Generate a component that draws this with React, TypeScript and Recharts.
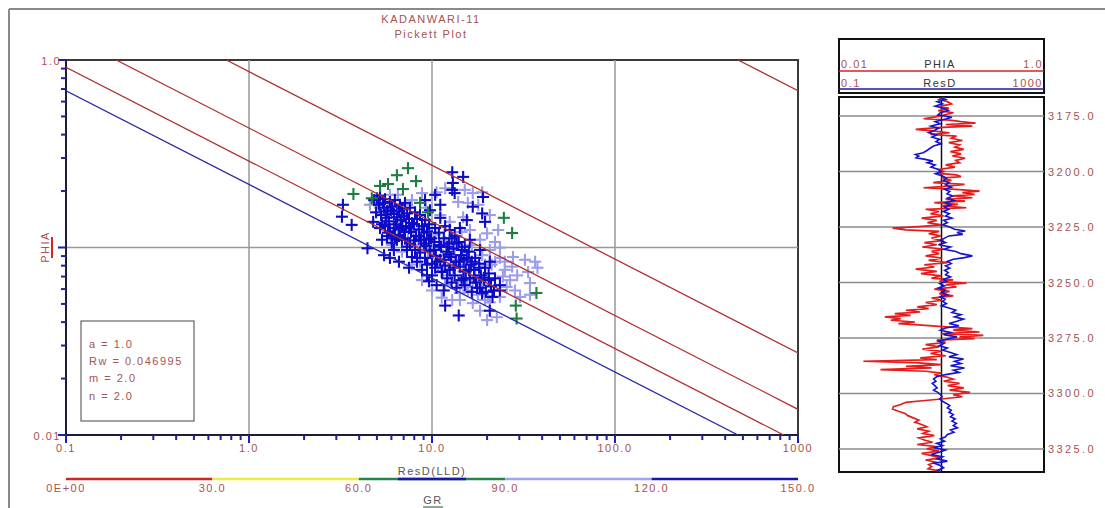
import React from 'react';
import {
  ReferenceArea,
  ReferenceLine,
  Scatter,
  ScatterChart,
  XAxis,
  YAxis,
} from 'recharts';

const TEXT_RED = '#a65252';
const FONT = '"Liberation Sans", Arial, sans-serif';
const TICK_BLUE = '#1e1eb0';

// Archie parameters (shown in the parameter box)
const ARCHIE_A = 1.0;
const ARCHIE_RW = 0.046995;
const ARCHIE_M = 2.0;
const ARCHIE_N = 2.0;
// Water saturation lines, blue one is Sw = 1
const SW_LINES = [1.0, 0.75, 0.5, 0.25, 0.01];

const RES_MAJOR = [0.1, 1, 10, 100, 1000];
const RES_LABELS = ['0.1', '1.0', '10.0', '100.0', '1000'];
const PHI_MAJOR = [0.01, 0.1, 1];
const PHI_LABELS = ['0.01', '', '1.0'];

const GR_BINS = [0, 30, 60, 90, 120, 150];
const GR_LABELS = ['0E+00', '30.0', '60.0', '90.0', '120.0', '150.0'];
const GR_COLORS = ['#d62424', '#eeee3a', '#24874a', '#a2a2ee', '#1616b4'];

// [ResD, PHIA] samples split by GR band
const gr60to90 = [
  [7.39, 0.265], [6.43, 0.243], [8.18, 0.226], [5.75, 0.218], [5.2, 0.213],
  [6.94, 0.205], [3.72, 0.193], [4.69, 0.183], [8.6, 0.173], [9.51, 0.154],
  [24.7, 0.144], [27.4, 0.1195], [37.2, 0.0572], [28.7, 0.049], [29.0, 0.0418],
];

const gr90to120 = [
  [5.07, 0.173], [5.75, 0.151], [6.11, 0.169], [6.51, 0.124], [6.94, 0.137],
  [7.39, 0.11], [7.88, 0.124], [8.39, 0.101], [8.93, 0.112], [9.51, 0.088],
  [10.1, 0.099], [10.8, 0.081], [11.5, 0.091], [12.3, 0.071], [13.0, 0.081],
  [13.9, 0.066], [14.8, 0.0745], [15.7, 0.059], [16.7, 0.067], [17.8, 0.056],
  [19.0, 0.063], [20.2, 0.055], [6.03, 0.103], [6.85, 0.095], [7.77, 0.081],
  [8.82, 0.067], [10.0, 0.059], [11.3, 0.054], [12.9, 0.0525], [6.51, 0.191],
  [7.77, 0.179], [9.28, 0.163], [11.1, 0.149], [12.5, 0.137], [14.5, 0.121],
  [16.5, 0.103], [18.8, 0.091], [21.2, 0.081], [4.58, 0.169], [5.2, 0.163],
  [8.82, 0.195], [10.6, 0.197], [13.9, 0.175], [16.7, 0.195], [18.8, 0.197],
  [15.7, 0.173], [23.0, 0.124], [20.0, 0.119], [23.5, 0.0998], [22.1, 0.107],
  [14.8, 0.145], [27.7, 0.089], [32.2, 0.086], [37.7, 0.078], [29.2, 0.071],
  [24.4, 0.07], [34.3, 0.0646], [30.3, 0.0545], [23.5, 0.0545], [20.7, 0.051],
  [20.0, 0.041], [22.6, 0.0425], [16.7, 0.0505], [14.2, 0.0572], [15.5, 0.0616],
  [18.3, 0.0654], [25.6, 0.0616], [27.4, 0.079], [25.0, 0.084], [33.5, 0.074],
  [5.54, 0.137], [6.27, 0.11], [7.12, 0.169], [8.08, 0.103], [9.16, 0.097],
  [10.4, 0.117], [11.8, 0.1073], [13.3, 0.091], [15.1, 0.081], [17.2, 0.071],
  [19.5, 0.081], [11.8, 0.063], [8.6, 0.084], [6.68, 0.1436], [5.89, 0.191],
  [16.1, 0.124], [18.3, 0.11], [20.7, 0.097], [23.5, 0.088], [14.2, 0.0525],
  [25.0, 0.076], [28.4, 0.059], [36.6, 0.084], [26.7, 0.067], [22.1, 0.084],
  [34.3, 0.056], [19.5, 0.0525], [18.3, 0.046], [11.8, 0.207], [15.1, 0.203],
  [17.9, 0.169], [20.7, 0.149],
];

const gr120to150 = [
  [4.83, 0.179], [4.95, 0.154], [4.77, 0.137],
  [5.2, 0.189], [5.13, 0.169], [5.27, 0.149], [5.2, 0.127], [5.33, 0.11],
  [5.54, 0.181], [5.47, 0.163], [5.61, 0.144], [5.54, 0.13], [5.68, 0.115], [5.47, 0.091],
  [5.89, 0.175], [5.96, 0.158], [5.82, 0.138], [5.89, 0.122], [6.03, 0.106], [5.89, 0.088],
  [6.27, 0.179], [6.19, 0.151], [6.35, 0.133], [6.27, 0.115], [6.19, 0.097],
  [6.68, 0.169], [6.6, 0.156], [6.76, 0.14], [6.68, 0.125], [6.85, 0.11], [6.6, 0.084],
  [7.12, 0.173], [7.03, 0.147], [7.21, 0.13], [7.12, 0.112], [7.3, 0.101],
  [7.58, 0.163], [7.49, 0.142], [7.68, 0.121], [7.58, 0.105], [7.77, 0.089], [7.49, 0.078],
  [8.08, 0.154], [7.98, 0.133], [8.18, 0.115], [8.08, 0.097], [8.28, 0.084],
  [8.6, 0.149], [8.49, 0.125], [8.71, 0.11], [8.6, 0.094], [8.82, 0.076],
  [9.16, 0.14], [9.05, 0.12], [9.28, 0.102], [9.16, 0.088], [9.39, 0.071],
  [9.75, 0.158], [9.63, 0.133], [9.87, 0.112], [9.75, 0.096], [10.0, 0.082], [9.63, 0.066],
  [10.4, 0.127], [10.3, 0.107], [10.5, 0.09], [10.4, 0.078], [10.6, 0.063],
  [11.1, 0.144], [10.9, 0.12], [11.2, 0.101], [11.1, 0.086], [11.3, 0.074],
  [11.8, 0.13], [11.6, 0.112], [12.0, 0.095], [11.8, 0.08], [12.1, 0.0685], [11.6, 0.059],
  [12.5, 0.124], [12.4, 0.105], [12.7, 0.089], [12.5, 0.076], [12.8, 0.065],
  [13.3, 0.115], [13.1, 0.0985], [13.5, 0.084], [13.3, 0.071], [13.6, 0.061],
  [14.2, 0.127], [14.0, 0.107], [14.4, 0.091], [14.2, 0.079], [14.5, 0.067],
  [15.1, 0.101], [14.9, 0.086], [15.3, 0.0745], [15.1, 0.063],
  [16.1, 0.11], [15.9, 0.095], [16.3, 0.081], [16.1, 0.0685], [16.5, 0.058],
  [17.2, 0.088], [17.0, 0.076], [17.4, 0.065],
  [18.3, 0.097], [18.1, 0.082], [18.5, 0.071], [18.3, 0.061],
  [19.5, 0.078], [19.3, 0.067], [19.7, 0.058],
  [20.7, 0.084], [20.4, 0.0727], [21.0, 0.062],
  [22.1, 0.0685], [21.8, 0.059], [23.5, 0.063],
  [5.01, 0.183], [5.4, 0.173], [5.68, 0.156], [6.04, 0.165], [6.43, 0.145],
  [6.85, 0.161], [7.3, 0.152], [7.77, 0.135], [8.29, 0.142], [8.82, 0.13],
  [9.39, 0.122], [5.33, 0.133], [5.75, 0.12], [6.19, 0.127], [6.6, 0.115],
  [7.03, 0.121], [7.49, 0.127], [7.98, 0.109], [8.49, 0.115], [9.05, 0.105],
  [9.63, 0.11], [10.27, 0.097], [10.96, 0.103], [11.65, 0.086], [12.34, 0.092],
  [13.13, 0.078], [14.02, 0.084], [14.9, 0.0685], [15.9, 0.076], [16.98, 0.069],
  [18.07, 0.078], [19.26, 0.069], [20.44, 0.067], [10.67, 0.084], [11.38, 0.0745],
  [12.1, 0.101], [12.82, 0.112], [13.64, 0.105], [14.56, 0.097], [15.49, 0.088],
  [16.51, 0.084], [17.64, 0.061], [18.77, 0.057], [10.0, 0.071], [9.39, 0.081],
  [8.29, 0.088], [7.3, 0.097], [6.43, 0.11], [6.04, 0.112], [6.85, 0.13],
  [3.26, 0.169], [3.22, 0.146], [3.64, 0.132], [4.44, 0.099], [11.8, 0.049],
  [14.0, 0.0434], [20.7, 0.046], [21.4, 0.0545], [23.5, 0.059], [18.8, 0.152],
  [19.5, 0.137], [16.7, 0.165], [15.5, 0.14], [19.0, 0.186], [12.9, 0.252],
  [14.8, 0.238], [13.0, 0.221], [12.9, 0.203], [13.3, 0.195], [10.4, 0.191],
  [11.1, 0.169], [9.16, 0.179],
];

// Depth track
const DEPTH_TICKS = [3175, 3200, 3225, 3250, 3275, 3300, 3325];
const DEPTH_TOP = 3166.4;
const DEPTH_BOTTOM = 3335.4;

// [depth, PHIA]
const phiaLog = [
  [3166.5, 0.107], [3167.5, 0.095], [3168.5, 0.114], [3169.5, 0.125], [3170.5, 0.1],
  [3171.5, 0.118], [3172.5, 0.093], [3173.5, 0.131], [3174.5, 0.105], [3175.5, 0.085],
  [3176.2, 0.067], [3176.8, 0.12], [3177.5, 0.155], [3178.2, 0.215], [3178.8, 0.11],
  [3179.5, 0.2], [3180.2, 0.09], [3181, 0.056], [3181.8, 0.085], [3182.5, 0.12],
  [3183.3, 0.078], [3184, 0.14], [3185, 0.125], [3186, 0.16], [3187, 0.118],
  [3188, 0.15], [3189, 0.135], [3190, 0.165], [3191, 0.122], [3192, 0.155],
  [3193, 0.128], [3194, 0.17], [3195, 0.138], [3196, 0.15], [3197, 0.11],
  [3198, 0.135], [3199, 0.095], [3200, 0.105], [3200.8, 0.092], [3201.5, 0.14],
  [3202.3, 0.155], [3203, 0.1], [3204, 0.125], [3205, 0.083], [3205.8, 0.168],
  [3206.5, 0.12], [3207.3, 0.0667], [3208, 0.14], [3208.8, 0.235], [3209.5, 0.16],
  [3210.3, 0.21], [3211, 0.13], [3211.8, 0.2], [3212.5, 0.11], [3213.3, 0.17],
  [3214, 0.085], [3214.8, 0.145], [3215.5, 0.1], [3216.3, 0.175], [3217, 0.07],
  [3218, 0.095], [3219, 0.078], [3220, 0.105], [3221, 0.064], [3222, 0.09],
  [3223, 0.073], [3224, 0.1], [3224.8, 0.06], [3225.5, 0.0333], [3226.3, 0.045],
  [3227, 0.095], [3228, 0.075], [3229, 0.098], [3230, 0.08], [3231, 0.105],
  [3232, 0.068], [3233, 0.09], [3234, 0.065], [3235, 0.105], [3236, 0.08],
  [3237, 0.095], [3238, 0.07], [3239, 0.1], [3240, 0.075], [3241, 0.115],
  [3242, 0.068], [3243, 0.085], [3244, 0.056], [3245, 0.09], [3246, 0.063],
  [3247, 0.1], [3248, 0.08], [3248.8, 0.13], [3249.5, 0.095], [3250.3, 0.175],
  [3251, 0.11], [3252, 0.14], [3253, 0.085], [3254, 0.12], [3255, 0.095],
  [3256, 0.13], [3257, 0.08], [3258, 0.1], [3259, 0.07], [3260, 0.09],
  [3261, 0.058], [3261.8, 0.075], [3262.5, 0.045], [3263.3, 0.062], [3264, 0.035],
  [3264.8, 0.05], [3265.5, 0.028], [3266.3, 0.04], [3267, 0.032], [3267.8, 0.055],
  [3268.5, 0.038], [3269.3, 0.07], [3270, 0.11], [3270.8, 0.2], [3271.5, 0.13],
  [3272.3, 0.235], [3273, 0.1], [3273.8, 0.256], [3274.5, 0.15], [3275.3, 0.21],
  [3276, 0.09], [3277, 0.11], [3278, 0.07], [3279, 0.095], [3280, 0.065],
  [3281, 0.1], [3282, 0.078], [3283, 0.11], [3284, 0.062], [3284.8, 0.09],
  [3285.5, 0.0173], [3286.2, 0.06], [3287, 0.1], [3287.8, 0.045], [3288.5, 0.08],
  [3289.3, 0.0254], [3290, 0.07], [3290.8, 0.1], [3291.5, 0.085], [3292.5, 0.11],
  [3293.5, 0.13], [3294.5, 0.105], [3295.5, 0.15], [3296.5, 0.115], [3297.5, 0.165],
  [3298.5, 0.12], [3299.5, 0.19], [3300.5, 0.13], [3301.5, 0.16], [3302.5, 0.1],
  [3303.3, 0.065], [3304, 0.045], [3305, 0.04], [3306, 0.034], [3307, 0.0333],
  [3308, 0.038], [3309, 0.044], [3310, 0.047], [3311, 0.053], [3312, 0.06],
  [3313, 0.055], [3314, 0.064], [3315, 0.072], [3316, 0.058], [3317, 0.075],
  [3318, 0.066], [3319, 0.085], [3320, 0.06], [3321, 0.068], [3322, 0.082],
  [3323, 0.058], [3324, 0.09], [3325, 0.072], [3326, 0.095], [3327, 0.064],
  [3328, 0.08], [3329, 0.098], [3330, 0.07], [3331, 0.088], [3332, 0.075],
  [3333, 0.08], [3334, 0.074], [3335, 0.098],
];

// [depth, ResD]
const resdLog = [
  [3166.5, 9], [3167.5, 12], [3168.5, 8.2], [3169.5, 10.5], [3170.5, 7.5],
  [3171.5, 11], [3172.5, 13.5], [3173.5, 9.5], [3174.5, 8.5], [3175.5, 16],
  [3176.5, 11], [3177.5, 7.5], [3178.5, 9.5], [3179.5, 6.2], [3180.5, 8.8],
  [3181.5, 7.2], [3182.5, 5.6], [3183.5, 8], [3184.5, 6.5], [3185.5, 9.2],
  [3186.5, 7.8], [3187.5, 9.8], [3188.5, 7], [3189.5, 6], [3190.5, 5.2],
  [3191.5, 4.4], [3192.3, 3.1], [3193, 3.6], [3193.8, 3.2], [3194.5, 4.8],
  [3195.3, 6.8], [3196, 5.3], [3197, 7.5], [3198, 6.2], [3199, 8.5],
  [3200, 9.8], [3201, 7.6], [3202, 10.5], [3203, 12.5], [3204, 11],
  [3205, 14], [3206, 12], [3207, 15.6], [3208, 11.5], [3209, 14.5],
  [3210, 12.8], [3211, 16.5], [3212, 13], [3213, 17.5], [3214, 12.2],
  [3215, 15], [3216, 11.5], [3217, 13.8], [3218, 10.8], [3219, 14.2],
  [3220, 12], [3221, 16], [3222, 11], [3223, 13], [3224, 10.5],
  [3225, 14.5], [3226, 18], [3226.8, 29], [3227.5, 20], [3228.3, 26],
  [3229, 14], [3230, 11.5], [3231, 9.5], [3232, 12], [3233, 8.7],
  [3234, 15], [3235, 11.2], [3236, 19], [3237, 24], [3238, 40],
  [3238.8, 28], [3239.5, 17], [3240.5, 13], [3241.5, 15.5], [3242.5, 12],
  [3243.5, 14.5], [3244.5, 11.5], [3245.5, 13.5], [3246.5, 12], [3247.5, 15],
  [3248.5, 11], [3249.5, 12.5], [3250.5, 9.3], [3251.5, 11.5], [3252.5, 8.7],
  [3253.5, 12], [3254.5, 10.2], [3255.5, 13], [3256.5, 9.5], [3257.5, 11.8],
  [3258.5, 10.6], [3259.5, 12.5], [3260.5, 10], [3261.5, 14], [3262.5, 19],
  [3263.5, 16], [3264.5, 24], [3265.5, 18], [3266.5, 27], [3267.5, 20],
  [3268.5, 14], [3269.5, 22], [3270.5, 12], [3271.5, 9.5], [3272.5, 15],
  [3273.5, 11], [3274.5, 20], [3275.5, 13], [3276.5, 8.7], [3277.5, 11],
  [3278.5, 9], [3279.5, 13], [3280.5, 10.5], [3281.5, 15], [3282.5, 20],
  [3283.5, 14], [3284.5, 27], [3285.5, 18], [3286.5, 24], [3287.5, 15],
  [3288.5, 28], [3289.5, 17], [3290.5, 22], [3291.5, 12], [3292.5, 8],
  [3293.5, 7], [3294.5, 7.8], [3295.5, 6.6], [3296.5, 7.4], [3297.5, 8.2],
  [3298.5, 7], [3299.5, 8.5], [3300.5, 9.5], [3301.5, 10.3], [3302.5, 9.2],
  [3303.5, 10.5], [3304.5, 12.5], [3305.5, 14.5], [3306.5, 13], [3307.5, 15.5],
  [3308.5, 14], [3309.5, 17], [3310.5, 15], [3311.5, 18.5], [3312.5, 16],
  [3313.5, 19.5], [3314.5, 17], [3315.5, 20.5], [3316.5, 15], [3317.5, 17.5],
  [3318.5, 13], [3319.5, 12], [3320.5, 9.5], [3321.5, 11.5], [3322.5, 8],
  [3323.5, 10.5], [3324.5, 7], [3325.5, 12], [3326.5, 9], [3327.5, 6.2],
  [3328.5, 10.5], [3329.5, 8.2], [3330.5, 13], [3331.5, 7.2], [3332.5, 9.5],
  [3333.5, 11], [3334.5, 8.5], [3335, 9.5],
];

// minor ticks for the log axes (2..9 within each decade)
const minorTicks = (decades: number[]) =>
  decades.flatMap(d => [2, 3, 4, 5, 6, 7, 8, 9].map(k => +(d * k).toPrecision(3)));
const RES_TICKS = [...RES_MAJOR, ...minorTicks([0.1, 1, 10, 100])].sort((a, b) => a - b);
const PHI_TICKS = [...PHI_MAJOR, ...minorTicks([0.01, 0.1])].sort((a, b) => a - b);

const toPoints = (rows: number[][]) => rows.map(([rt, phi]) => ({rt, phi}));

// Archie line for a given Sw, clipped to the plot domain
function swSegment(sw: number) {
  const k = Math.log10(ARCHIE_A * ARCHIE_RW) - ARCHIE_N * Math.log10(sw);
  const phiAt = (rt: number) => Math.pow(10, (k - Math.log10(rt)) / ARCHIE_M);
  const lo = Math.max(0.1, Math.pow(10, k));
  const hi = Math.min(1000, Math.pow(10, k + 2 * ARCHIE_M));
  return [
    {rt: lo, phi: phiAt(lo)},
    {rt: hi, phi: phiAt(hi)},
  ];
}

const textStyle = {
  fontFamily: FONT,
  fontSize: 11,
  letterSpacing: 1.5,
  fill: TEXT_RED,
};

const PlusMark = ({cx, cy, color}: any) => {
  if (cx == null || cy == null) return <g />;
  return (
    <g stroke={color} strokeWidth={2.1}>
      <line x1={cx - 6} y1={cy} x2={cx + 6} y2={cy} />
      <line x1={cx} y1={cy - 6} x2={cx} y2={cy + 6} />
    </g>
  );
};

const noMark = () => <g />;

// the tick component draws both the stub and the label: majors long, minors short
const ResTick = ({x, y, payload}: any) => {
  const idx = RES_MAJOR.indexOf(payload.value);
  const major = idx >= 0;
  return (
    <g>
      <rect x={x - 1} y={y} width={2} height={major ? 8 : 5} fill={TICK_BLUE} />
      {major && (
        <text x={x} y={y + 17} textAnchor="middle" {...textStyle}>
          {RES_LABELS[idx]}
        </text>
      )}
    </g>
  );
};

const PhiTick = ({x, y, payload}: any) => {
  const idx = PHI_MAJOR.indexOf(payload.value);
  const major = idx >= 0;
  return (
    <g>
      <rect x={x - (major ? 8 : 5)} y={y - 1} width={major ? 8 : 5} height={2} fill={TICK_BLUE} />
      {major && PHI_LABELS[idx] && (
        <text x={x - 5} y={y + 5} textAnchor="end" {...textStyle}>
          {PHI_LABELS[idx]}
        </text>
      )}
    </g>
  );
};

const DepthTick = ({x, y, payload}: any) => (
  <text x={x + 4} y={y + 4} textAnchor="start" {...textStyle} letterSpacing={2.4}>
    {payload.value.toFixed(1)}
  </text>
);

function PickettPlot() {
  const swColors = ['#2a2aa8', '#b03030', '#b03030', '#b03030', '#b03030'];
  return (
    <ScatterChart width={830} height={508} margin={{top: 60, right: 32, bottom: 33, left: 26}}>
      <XAxis
        dataKey="rt"
        type="number"
        scale="log"
        domain={[0.1, 1000]}
        allowDataOverflow
        ticks={RES_TICKS}
        interval={0}
        tick={(p: any) => <ResTick {...p} />}
        tickLine={false}
        tickSize={0}
        tickMargin={0}
        height={40}
        axisLine={{stroke: '#1c1c40', strokeWidth: 2}}
      />
      <YAxis
        dataKey="phi"
        type="number"
        scale="log"
        domain={[0.01, 1]}
        allowDataOverflow
        ticks={PHI_TICKS}
        interval={0}
        tick={(p: any) => <PhiTick {...p} />}
        tickLine={false}
        tickSize={0}
        tickMargin={0}
        width={40}
        axisLine={{stroke: '#1c1c40', strokeWidth: 2}}
      />
      {[1, 10, 100].map(v => (
        <ReferenceLine key={v} x={v} stroke="#999" strokeWidth={1.5} />
      ))}
      <ReferenceLine y={0.1} stroke="#999" strokeWidth={1.5} />
      <ReferenceArea x1={0.1} x2={1000} y1={0.01} y2={1} fill="none" fillOpacity={0} stroke="#3a3a3a" strokeWidth={2} />
      <Scatter
        data={toPoints(gr90to120)}
        shape={(p: any) => <PlusMark {...p} color="#9c9cea" />}
        isAnimationActive={false}
      />
      <Scatter
        data={toPoints(gr120to150)}
        shape={(p: any) => <PlusMark {...p} color="#0c0cc8" />}
        isAnimationActive={false}
      />
      <Scatter
        data={toPoints(gr60to90)}
        shape={(p: any) => <PlusMark {...p} color="#1e7d40" />}
        isAnimationActive={false}
      />
      {SW_LINES.map((sw, i) => (
        <Scatter
          key={sw}
          data={swSegment(sw)}
          line={{stroke: swColors[i], strokeWidth: 1.3}}
          shape={noMark}
          isAnimationActive={false}
        />
      ))}
    </ScatterChart>
  );
}

function LogTrack() {
  const phiaPoints = phiaLog.map(([depth, phia]) => ({depth, phia}));
  const resdPoints = resdLog.map(([depth, resd]) => ({depth, resd}));
  return (
    <ScatterChart width={305} height={508} margin={{top: 97, right: 0, bottom: 36, left: 39}}>
      <XAxis xAxisId="phia" dataKey="phia" type="number" scale="log" domain={[0.01, 1]} allowDataOverflow hide />
      <XAxis xAxisId="resd" dataKey="resd" type="number" scale="log" domain={[0.1, 1000]} allowDataOverflow hide />
      <YAxis
        dataKey="depth"
        type="number"
        domain={[DEPTH_TOP, DEPTH_BOTTOM]}
        allowDataOverflow
        reversed
        orientation="right"
        width={61}
        ticks={DEPTH_TICKS}
        interval={0}
        tick={(p: any) => <DepthTick {...p} />}
        tickLine={false}
        axisLine={false}
        tickSize={0}
        tickMargin={0}
      />
      {DEPTH_TICKS.map(d => (
        <ReferenceLine key={d} xAxisId="phia" y={d} stroke="#8c8c8c" strokeWidth={1.5} />
      ))}
      <ReferenceLine xAxisId="phia" x={0.1} stroke="#111" strokeWidth={1.5} />
      <Scatter
        xAxisId="phia"
        data={phiaPoints}
        line={{stroke: '#e41c1c', strokeWidth: 1.7}}
        shape={noMark}
        isAnimationActive={false}
      />
      <Scatter
        xAxisId="resd"
        data={resdPoints}
        line={{stroke: '#1414c8', strokeWidth: 1.6}}
        shape={noMark}
        isAnimationActive={false}
      />
      <ReferenceArea
        xAxisId="phia"
        x1={0.01}
        x2={1}
        y1={DEPTH_TOP}
        y2={DEPTH_BOTTOM}
        fill="none"
        fillOpacity={0}
        stroke="#111"
        strokeWidth={2}
      />
    </ScatterChart>
  );
}

// Titles, parameter box, GR colour strip and track header
function Decorations() {
  const grLeft = 66;
  const grWidth = 732;
  const grX = (v: number) => grLeft + (v / 150) * grWidth;
  return (
    <svg width={1105} height={508} style={{position: 'absolute', left: 0, top: 0, pointerEvents: 'none'}}>
      <line x1={9} y1={9} x2={1105} y2={9} stroke="#8a8a8a" strokeWidth={2} />
      <line x1={9} y1={9} x2={9} y2={508} stroke="#8a8a8a" strokeWidth={2} />

      <text x={431} y={23} textAnchor="middle" {...textStyle}>KADANWARI-11</text>
      <text x={431} y={38} textAnchor="middle" {...textStyle}>Pickett Plot</text>

      <text x={49} y={247} textAnchor="middle" {...textStyle} transform="rotate(-90 49 247)">PHIA</text>
      <line x1={52} y1={237} x2={52} y2={258} stroke="#d42424" strokeWidth={2} />

      <rect x={81} y={321} width={113} height={100} fill="none" stroke="#444" strokeWidth={1} />
      <text x={89} y={348} {...textStyle}>a = {ARCHIE_A.toFixed(1)}</text>
      <text x={89} y={365} {...textStyle}>Rw = {ARCHIE_RW}</text>
      <text x={89} y={382} {...textStyle}>m = {ARCHIE_M.toFixed(1)}</text>
      <text x={89} y={400} {...textStyle}>n = {ARCHIE_N.toFixed(1)}</text>

      {GR_COLORS.map((c, i) => (
        <line key={c} x1={grX(GR_BINS[i])} y1={479} x2={grX(GR_BINS[i + 1])} y2={479} stroke={c} strokeWidth={2.5} />
      ))}
      {GR_BINS.map((v, i) => (
        <text key={v} x={grX(v)} y={492} textAnchor="middle" {...textStyle}>{GR_LABELS[i]}</text>
      ))}
      <text x={432} y={475} textAnchor="middle" {...textStyle} fill="#555">ResD(LLD)</text>
      <line x1={398} y1={479} x2={466} y2={479} stroke="#1a1aa8" strokeWidth={2.5} />
      <text x={433} y={504} textAnchor="middle" {...textStyle} fill="#555">GR</text>
      <line x1={423} y1={507} x2={443} y2={507} stroke="#8aaa98" strokeWidth={2} />

      <rect x={839} y={39} width={205} height={54} fill="none" stroke="#111" strokeWidth={2} />
      <text x={841} y={68} {...textStyle}>0.01</text>
      <text x={940} y={68} textAnchor="middle" {...textStyle} fill="#333">PHIA</text>
      <text x={1043} y={68} textAnchor="end" {...textStyle}>1.0</text>
      <line x1={839} y1={71} x2={1044} y2={71} stroke="#d42424" strokeWidth={1.5} />
      <text x={841} y={87} {...textStyle}>0.1</text>
      <text x={940} y={87} textAnchor="middle" {...textStyle} fill="#333">ResD</text>
      <text x={1043} y={87} textAnchor="end" {...textStyle}>1000</text>
      <line x1={839} y1={89} x2={1044} y2={89} stroke="#1a1aa8" strokeWidth={1.5} />
    </svg>
  );
}

export default function App() {
  return (
    <div style={{position: 'absolute', left: 0, top: 0, width: 1105, height: 508, background: '#fff', overflow: 'hidden'}}>
      <div style={{position: 'absolute', left: 0, top: 0}}>
        <PickettPlot />
      </div>
      <div style={{position: 'absolute', left: 800, top: 0}}>
        <LogTrack />
      </div>
      <Decorations />
    </div>
  );
}
